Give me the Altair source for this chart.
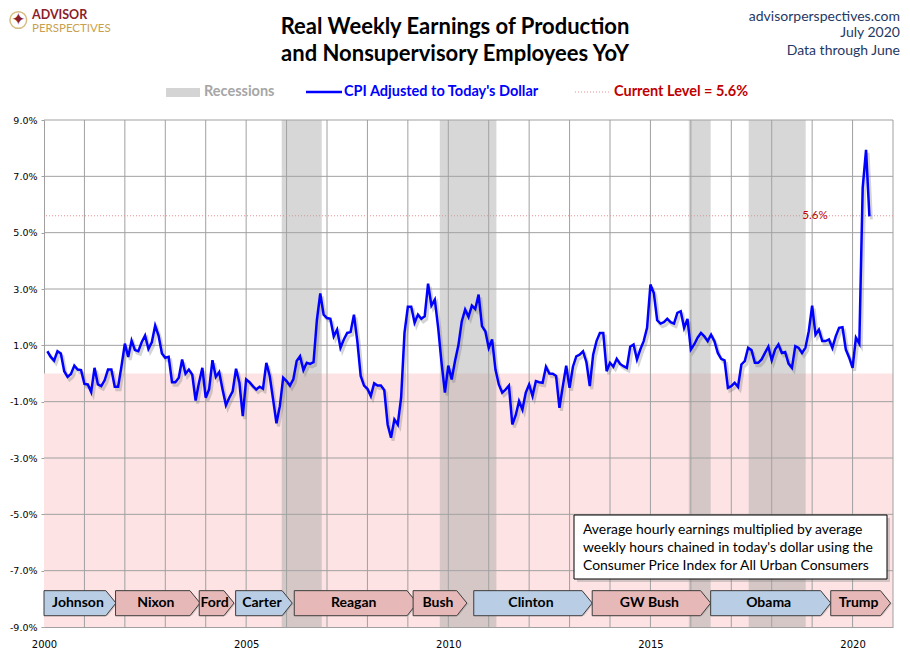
import altair as alt
import pandas as pd

# YoY % change of real weekly earnings, monthly Feb 2000 - Jun 2020
yoy_2000s = [
    0.79, 0.59, 0.46, 0.79, 0.71, 0.08, -0.12, -0.02, 0.28, 0.14, 0.12,
    -0.37, -0.39, -0.66, 0.20, -0.39, -0.45, -0.24, 0.14, 0.14, -0.47, -0.47,
    0.26, 1.06, 0.59, 1.17, 0.83, 0.79, 1.11, 1.35, 0.87, 1.11, 1.70,
    1.35, 0.71, 0.56, 0.59, -0.31, -0.31, -0.15, 0.50, -0.01, 0.14, -0.04,
    -0.96, -0.33, 0.20, -0.86, -0.57, 0.47, -0.12, 0.05, -0.57, -1.13, -0.86,
    -0.63, 0.17, -0.33, -1.51, -0.21, -0.31, -0.45, -0.57, -0.47, -0.54, 0.38,
    -0.09, -0.92, -1.77, -1.16, -0.15, -0.27, -0.43, -0.21, 0.44, 0.61, 0.12,
    0.38, 0.34, 0.40, 1.90, 2.84, 2.09, 1.97, 1.94, 1.32, 1.56, 0.91,
    1.21, 1.44, 1.47, 2.09, 1.15, -0.09, -0.43, -0.54, -0.80, -0.35, -0.43,
    -0.43, -0.59, -1.81, -2.28, -1.63, -1.81, -0.86, 1.44, 2.37, 2.37, 1.80,
    2.09, 1.94, 2.03, 3.19, 2.41, 2.62, 1.62, 0.38, -0.68,
]
yoy_2010s = [
    0.28, -0.21, 0.44, 1.00, 1.85, 2.27, 2.01, 2.41, 2.29, 2.80, 1.68, 1.50,
    0.91, 1.21, 0.14, -0.39, -0.68, -0.57, -0.43, -1.81, -1.49, -0.98, -1.28, -0.68,
    -0.39, -0.80, -0.27, -0.31, -0.33, 0.24, 0.00, -0.01, -0.09, -1.22, -0.45, 0.28,
    -0.51, 0.24, 0.61, 0.67, 0.79, 0.40, -0.45, 0.67, 1.15, 1.44, 1.44, 0.08,
    0.38, 0.24, 0.52, 0.34, 0.26, 0.20, 0.95, 1.03, 0.50, 0.85, 1.15, 1.62,
    3.16, 2.86, 1.89, 1.77, 1.82, 1.94, 1.82, 1.77, 2.15, 2.21, 1.62, 1.94,
    0.85, 1.03, 1.27, 1.44, 1.32, 1.15, 1.38, 1.15, 0.73, 0.52, 0.47, -0.51,
    -0.45, -0.33, -0.47, 0.32, 0.44, 0.91, 0.83, 0.38, 0.38, 0.50, 0.73, 0.95,
    0.47, 0.85, 1.03, 0.73, 0.76, 0.35, 0.20, 0.97, 0.91, 0.73, 0.91, 1.50,
    2.41, 1.38, 1.56, 1.15, 1.15, 1.21, 0.91, 1.32, 1.62, 1.64, 0.85, 0.56,
]
yoy_2020 = [0.20, 1.27, 1.06, 6.59, 7.94, 5.58]

current_level = 5.6

# recession bands, as placed on the chart's axis
rec_start = [2005.88, 2009.79, 2015.95, 2017.43]
rec_end = [2006.87, 2011.19, 2016.49, 2018.84]

# presidential terms, as placed on the chart's axis
presidents = ["Johnson", "Nixon", "Ford", "Carter", "Reagan", "Bush",
              "Clinton", "GW Bush", "Obama", "Trump"]
party = ["D", "R", "R", "D", "R", "R", "D", "R", "D", "R"]
term_start = [2000.0, 2001.77, 2003.84, 2004.74, 2006.19, 2009.13,
              2010.63, 2013.56, 2016.49, 2019.46]
term_end = [2001.78, 2003.86, 2004.70, 2006.14, 2009.23, 2010.46,
            2013.56, 2016.49, 2019.46, 2020.94]

x_labels = [2000, 2005, 2010, 2015, 2020]
y_ticks = [-9, -7, -5, -3, -1, 1, 3, 5, 7, 9]
grid_years = list(range(2001, 2022))

note = ["Average hourly earnings multiplied by average",
        "weekly hours chained in today's dollar using the",
        "Consumer Price Index for All Urban Consumers"]

GRID = "#a0a0a0"
NAVY = "#1f3864"
RED = "#c00000"

vals = yoy_2000s + yoy_2010s + yoy_2020
df = pd.DataFrame({"t": [2000 + (i + 1) / 12 for i in range(len(vals))], "v": vals})
bands = pd.DataFrame({"t": rec_start, "t2": rec_end})

# arrow shaped boxes for the presidents row
TOP, BOT, MID, TIP = -7.71, -8.60, -8.15, 0.25
rows = []
for n, p, s, e in zip(presidents, party, term_start, term_end):
    rows.append({"name": n, "party": p, "t": s, "v": TOP, "v2": BOT})
    rows.append({"name": n, "party": p, "t": e - TIP, "v": TOP, "v2": BOT})
    rows.append({"name": n, "party": p, "t": e, "v": MID, "v2": MID})
pres = pd.DataFrame(rows)
pres_lbl = pd.DataFrame({"name": presidents,
                         "t": [(s + e - 0.1) / 2 for s, e in zip(term_start, term_end)],
                         "v": MID})

one = pd.DataFrame({"k": [0]})

xs = alt.Scale(domain=[2000, 2021], nice=False, zero=False)
ys = alt.Scale(domain=[-9, 9], nice=False, zero=False)
x_axis = alt.Axis(values=x_labels, format="d", grid=False, ticks=False,
                  domainColor=GRID, labelFont="DejaVu Sans", labelFontSize=10,
                  labelColor="#000000", labelPadding=12, labelFlush=False)
y_axis = alt.Axis(values=y_ticks, grid=False, tickColor=GRID, tickSize=3,
                  domainColor=GRID, labelFont="DejaVu Sans", labelFontSize=9.5,
                  labelColor="#000000", labelPadding=4,
                  labelExpr="(datum.value < 0 ? '-' : '') + format(abs(datum.value), '.1f') + '%'")
X = alt.X("t:Q", scale=xs, axis=x_axis, title="")
Y = alt.Y("v:Q", scale=ys, axis=y_axis, title="")

# pink area below zero
neg_bg = alt.Chart(one).mark_rect(color="#fde3e3").encode(
    x=alt.datum(2000), x2=alt.datum(2021), y=alt.datum(0), y2=alt.datum(-9))

vgrid = alt.Chart(pd.DataFrame({"t": grid_years})).mark_rule(
    color=GRID, strokeWidth=1).encode(x=X)
hgrid = alt.Chart(pd.DataFrame({"v": y_ticks[1:]})).mark_rule(
    color=GRID, strokeWidth=1).encode(y=Y)

level = alt.Chart(one).mark_rule(color="#e89090", strokeWidth=1, strokeDash=[1, 2]).encode(
    y=alt.datum(current_level))

rec = alt.Chart(bands).mark_rect(color="#a4a4a4", opacity=0.44).encode(
    x=X, x2="t2:Q", y=alt.datum(9), y2=alt.datum(-9))

pres_shadow = alt.Chart(pres).mark_area(
    orient="vertical", color="#808080", opacity=0.3, xOffset=2, yOffset=2).encode(
    x=X, y=Y, y2="v2:Q", detail="name:N")
pres_box = alt.Chart(pres).mark_area(
    orient="vertical", stroke="#3c3c3c", strokeWidth=1, opacity=1).encode(
    x=X, y=Y, y2="v2:Q", detail="name:N",
    color=alt.Color("party:N", scale=alt.Scale(domain=["D", "R"], range=["#b9cde5", "#e6b9b8"]),
                    legend=None))
pres_text = alt.Chart(pres_lbl).mark_text(
    font="Lato", fontSize=14, fontWeight="bold", color="#000000").encode(
    x=X, y=Y, text="name:N")

# note box
note_shadow = alt.Chart(one).mark_rect(color="#888888", opacity=0.35).encode(
    x=alt.value(533), x2=alt.value(846), y=alt.value(398), y2=alt.value(462))
note_box = alt.Chart(one).mark_rect(fill="#ffffff", stroke="#000000", strokeWidth=1).encode(
    x=alt.value(530), x2=alt.value(843), y=alt.value(395), y2=alt.value(459))
note_text = alt.Chart(one).mark_text(
    align="left", baseline="top", font="Lato", fontSize=13.9, lineHeight=17.8,
    color="#000000").encode(x=alt.value(539), y=alt.value(403), text=alt.value(note))

level_lbl = alt.Chart(one).mark_text(
    font="Lato", fontSize=11.5, color=RED, baseline="middle").encode(
    x=alt.value(771), y=alt.datum(current_level), text=alt.value("5.6%"))

line_shadow = alt.Chart(df).mark_line(
    color="#707070", opacity=0.3, strokeWidth=3, xOffset=2, yOffset=3).encode(x=X, y=Y)
line = alt.Chart(df).mark_line(color="#0000ff", strokeWidth=2.5).encode(x=X, y=Y)


def txt(s, x, y, size, color, weight="normal", align="left", font="Lato"):
    return alt.Chart(one).mark_text(
        text=s, font=font, fontSize=size, fontWeight=weight, color=color,
        align=align, baseline="middle").encode(x=alt.value(x), y=alt.value(y))


header = [
    txt("Real Weekly Earnings of Production", 411, -93, 22, "#000000", "bold", "center"),
    txt("and Nonsupervisory Employees YoY", 411, -66, 22, "#000000", "bold", "center"),
    txt("advisorperspectives.com", 856, -103.5, 14, NAVY, align="right"),
    txt("July 2020", 856, -87.5, 14, NAVY, align="right"),
    txt("Data through June", 856, -69, 14, NAVY, align="right"),
    txt("ADVISOR", -12, -105.2, 12.5, "#8c1d2a", "bold"),
    txt("PERSPECTIVES", -12, -91.5, 11.5, "#c9a04e"),
    alt.Chart(one).mark_point(shape="circle", filled=False, color="#c9a04e",
                              strokeWidth=1.5, size=280).encode(
        x=alt.value(-25.7), y=alt.value(-100)),
    txt("\u2726", -25.7, -100, 17, "#8c1d2a", align="center", font="DejaVu Sans"),
    # legend
    alt.Chart(one).mark_rect(color="#d4d4d4").encode(
        x=alt.value(122), x2=alt.value(156), y=alt.value(-32), y2=alt.value(-23)),
    txt("Recessions", 160, -28, 14.5, "#a6a6a6", "bold"),
    alt.Chart(one).mark_rule(color="#0000ff", strokeWidth=2.5).encode(
        x=alt.value(262), x2=alt.value(298), y=alt.value(-28)),
    txt("CPI Adjusted to Today's Dollar", 300, -28, 14.5, "#0000ff", "bold"),
    alt.Chart(one).mark_rule(color="#e89090", strokeWidth=1, strokeDash=[1, 2]).encode(
        x=alt.value(531), x2=alt.value(567), y=alt.value(-28)),
    txt("Current Level = 5.6%", 570, -28, 14.5, RED, "bold"),
]

chart = alt.layer(
    neg_bg, vgrid, hgrid, level, rec, pres_shadow, pres_box, pres_text,
    note_shadow, note_box, note_text, level_lbl, line_shadow, line, *header
).properties(
    width=849, height=507,
    autosize=alt.AutoSizeParams(type="none"),
    padding={"left": 36, "top": 112, "right": 9, "bottom": 24},
    background="#ffffff",
).configure_view(strokeWidth=0)

chart.save("out.html", embed_options={"renderer": "svg", "actions": False})
